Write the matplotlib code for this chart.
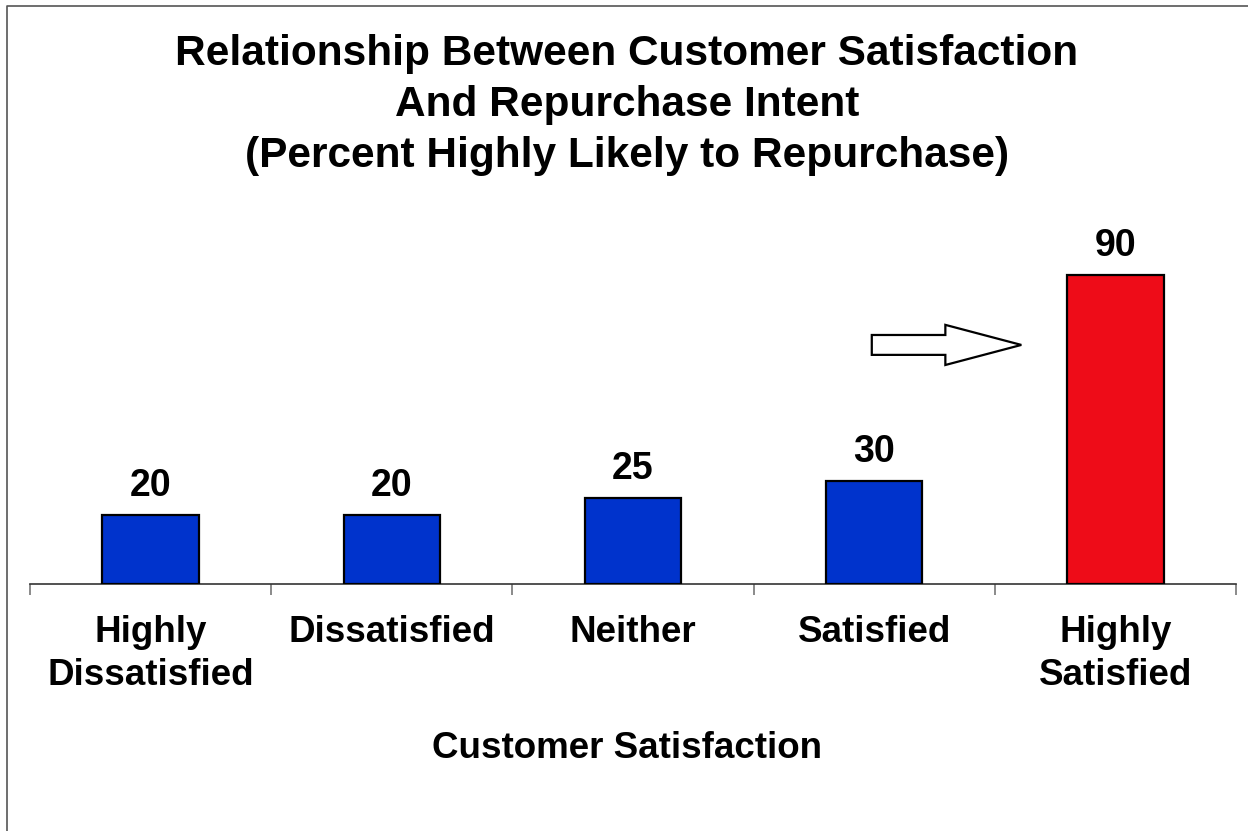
"""Customer satisfaction vs repurchase intent bar chart."""
import numpy as np
import matplotlib.pyplot as plt
import matplotlib.patches as mpatches

plt.rcParams["font.family"] = ["Liberation Sans", "DejaVu Sans"]
plt.rcParams["font.weight"] = "bold"

categories = ["Highly\nDissatisfied", "Dissatisfied", "Neither", "Satisfied", "Highly\nSatisfied"]
values = [20, 20, 25, 30, 90]
colors = ["#0033CC", "#0033CC", "#0033CC", "#0033CC", "#EE0C18"]

W, H = 1248, 831
fig = plt.figure(figsize=(W / 100, H / 100), dpi=100)
ax = fig.add_axes([30 / W, 1 - 584 / H, 1206 / W, 343 / H])

x = np.arange(len(categories))
bars = ax.bar(x, values, width=0.40, color=colors, edgecolor="black", linewidth=1.6, zorder=3)
for b, v in zip(bars, values):
    ax.annotate(f"{v}", (b.get_x() + b.get_width() / 2, v), xytext=(0, 8),
                textcoords="offset points", ha="center", va="bottom",
                fontsize=27, fontweight="bold")

ax.set_xlim(-0.5, len(categories) - 0.5)
ax.set_ylim(0, 100)
ax.set_xticks(np.arange(len(categories) + 1) - 0.5, minor=False)
ax.set_xticklabels([])
ax.set_xticks(x, minor=True)
ax.set_xticklabels(categories, minor=True, fontsize=26.5, fontweight="bold", linespacing=1.3)
ax.tick_params(axis="x", which="major", length=8, width=1.2, color="#777777", direction="out")
ax.tick_params(axis="x", which="minor", length=0, pad=22)
ax.set_yticks([])
for s in ("left", "right", "top"):
    ax.spines[s].set_visible(False)
ax.spines["bottom"].set_color("#333333")
ax.spines["bottom"].set_linewidth(1.2)

# block arrow pointing at the highlighted bar
arrow = mpatches.FancyArrow(2.99, 69.7, 0.62, 0, width=5.8, head_width=11.7,
                            head_length=0.315, length_includes_head=True,
                            facecolor="white", edgecolor="black", linewidth=1.6, zorder=4)
ax.add_patch(arrow)

fig.text(627 / W, 1 - 105 / H,
         "Relationship Between Customer Satisfaction\nAnd Repurchase Intent\n(Percent Highly Likely to Repurchase)",
         ha="center", va="center", fontsize=30.5, fontweight="bold", linespacing=1.34)
fig.text(627 / W, 1 - 748 / H, "Customer Satisfaction", ha="center", va="center",
         fontsize=26.5, fontweight="bold")

# frame line at left and top
fig.add_artist(plt.Line2D([7 / W, 7 / W, 1.0], [0.0, 1 - 6 / H, 1 - 6 / H],
                          transform=fig.transFigure, color="#555555", linewidth=1.2))

fig.savefig("out.png", dpi=100)
